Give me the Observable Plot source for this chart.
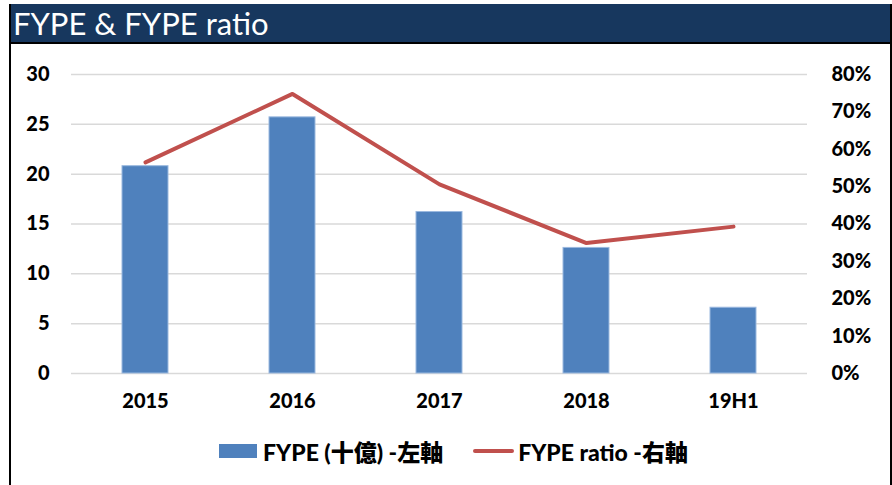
<!DOCTYPE html>
<html>
<head>
<meta charset="utf-8">
<script src="https://cdn.jsdelivr.net/npm/d3@7"></script>
<script src="https://cdn.jsdelivr.net/npm/@observablehq/plot@0.6"></script>
<style>
  html, body { margin: 0; padding: 0; background: #fff; }
  #frame {
    position: absolute; left: 9px; top: 4px; width: 879px; height: 490px;
    border-left: 2px solid #000; border-right: 2px solid #000;
    font-family: Lato, "Noto Sans CJK TC", sans-serif;
  }
  #title {
    height: 38px; background: #17375E; border-bottom: 2px solid #000;
    color: #fff; font-size: 31px; line-height: 38px; padding-left: 2px;
    font-family: Lato, "Noto Sans CJK TC", sans-serif;
  }
  #chart svg { display: block; }
  #legend {
    display: flex; justify-content: center; align-items: center; gap: 30px;
    height: 24px; margin-top: 10px; font-size: 23px; font-weight: 900; color: #000;
    padding-left: 6px;
  }
  .item { display: flex; align-items: center; gap: 6px; }
  .sw-bar { width: 38px; height: 14px; background: #4F81BD; }
  .sw-line { width: 41px; height: 4px; border-radius: 2px; background: #C0504D; margin-right: -2px; }
</style>
</head>
<body>
<div id="frame">
  <div id="title">FYPE &amp; FYPE ratio</div>
  <div id="chart"></div>
  <div id="legend"></div>
</div>
<script>
const categories = ["2015", "2016", "2017", "2018", "19H1"];
const fype = [20.8, 25.7, 16.2, 12.6, 6.6];
const fypeRatio = [0.565, 0.748, 0.506, 0.349, 0.393];
const leftTicks = [0, 5, 10, 15, 20, 25, 30];
const rightTicks = [0, 0.1, 0.2, 0.3, 0.4, 0.5, 0.6, 0.7, 0.8];
const seriesNames = ["FYPE (十億) -左軸", "FYPE ratio -右軸"];

const leftMax = 30, rightMax = 0.8;
const toLeft = r => r * leftMax / rightMax;

const rows = categories.map((c, i) => ({cat: c, fype: fype[i], ratio: fypeRatio[i]}));

const plot = Plot.plot({
  width: 879,
  height: 385,
  marginTop: 30,
  marginBottom: 56,
  marginLeft: 60,
  marginRight: 83,
  x: {domain: categories, paddingInner: 0.69, paddingOuter: 0.345, axis: null},
  y: {domain: [0, leftMax], axis: null},
  style: {fontFamily: 'Lato, "Noto Sans CJK TC", sans-serif', fontSize: "20px", fontWeight: "900", color: "#000", background: "#fff"},
  marks: [
    Plot.gridY(leftTicks, {stroke: "#d9d9d9", strokeOpacity: 1, strokeWidth: 1.5}),
    Plot.barY(rows, {x: "cat", y: "fype", fill: "#4F81BD", stroke: "#9bb9df", strokeWidth: 1}),
    Plot.line(rows, {x: "cat", y: d => toLeft(d.ratio), stroke: "#C0504D", strokeWidth: 4, strokeLinejoin: "round", strokeLinecap: "round"}),
    Plot.axisY(leftTicks, {anchor: "left", label: null, tickSize: 0, tickPadding: 22, fontSize: 20, fontWeight: 900}),
    Plot.axisY(rightTicks.map(toLeft), {anchor: "right", label: null, tickSize: 0, tickPadding: 24, fontSize: 20, fontWeight: 900,
      tickFormat: v => Math.round(v / leftMax * rightMax * 100) + "%"}),
    Plot.axisX({label: null, tickSize: 0, tickPadding: 20, fontSize: 20, fontWeight: 900})
  ]
});
document.getElementById("chart").appendChild(plot);

const legend = document.getElementById("legend");
legend.innerHTML =
  `<div class="item"><div class="sw-bar"></div><span>${seriesNames[0]}</span></div>` +
  `<div class="item"><div class="sw-line"></div><span>${seriesNames[1]}</span></div>`;
</script>
</body>
</html>
